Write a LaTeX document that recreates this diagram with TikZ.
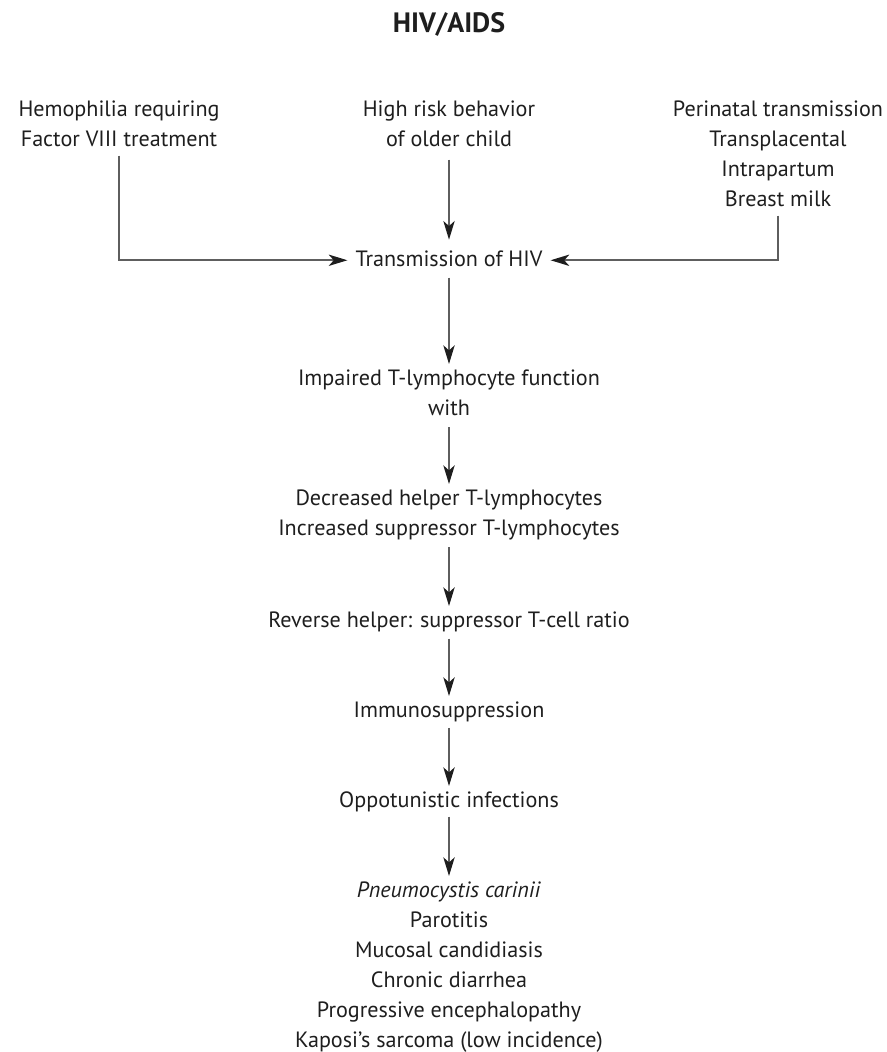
\documentclass[tikz,border=0pt]{standalone}
\usepackage{fontspec}
\setmainfont{PT Sans}
\usetikzlibrary{arrows.meta}
\definecolor{ink}{HTML}{1E1E1E}
\definecolor{wire}{HTML}{5E5E5E}
\begin{document}
\begin{tikzpicture}[x=0.75pt,y=-0.75pt,
  lbl/.style={inner sep=0pt, align=center, anchor=north, text=ink,
              font=\fontsize{16.6}{22.5}\selectfont},
  arr/.style={draw=wire, line width=1.25pt,
              -{Stealth[length=14pt,width=8.5pt,inset=3.8pt,color=ink]}}
]
\useasboundingbox (0,0) rectangle (886,1052);

% title
\node[font=\bfseries\fontsize{21}{24}\selectfont, text=ink, anchor=base, inner sep=0pt]
  (title) at (449,33) {HIV/AIDS};

% sources of transmission
\node[lbl] (hemo) at (119,95) {\strut Hemophilia requiring\\Factor VIII treatment\strut};
\node[lbl] (risk) at (449,95) {\strut High risk behavior\\of older child\strut};
\node[lbl] (peri) at (778,95) {\strut Perinatal transmission\\Transplacental\\Intrapartum\\Breast milk\strut};

% main chain
\node[lbl, inner xsep=6pt] (trans) at (449,245) {\strut Transmission of HIV\strut};
\node[lbl] (impair) at (449,364) {\strut Impaired T-lymphocyte function\\with\strut};
\node[lbl] (cells) at (449,484) {\strut Decreased helper T-lymphocytes\\Increased suppressor T-lymphocytes\strut};
\node[lbl] (ratio) at (449,606) {\strut Reverse helper: suppressor T-cell ratio\strut};
\node[lbl] (immuno) at (449,696) {\strut Immunosuppression\strut};
\node[lbl] (opp) at (449,786) {\strut Oppotunistic infections\strut};
\node[lbl] (list) at (449,876) {\strut\textit{Pneumocystis carinii}\\Parotitis\\Mucosal candidiasis\\Chronic diarrhea\\Progressive encephalopathy\\Kaposi’s sarcoma (low incidence)\strut};

% connectors
\draw[arr] (hemo.south) |- (trans.west);
\draw[arr] (peri.south) |- (trans.east);
\draw[arr, shorten <=3pt, shorten >=4pt] (risk.south) -- (trans.north);
\draw[arr, shorten <=1.5pt] (trans.south) -- (impair.north);
\draw[arr, shorten <=2pt] (impair.south) -- (cells.north);
\draw[arr, shorten <=2pt] (cells.south) -- (ratio.north);
\draw[arr, shorten <=1.5pt] (ratio.south) -- (immuno.north);
\draw[arr, shorten <=1pt] (immuno.south) -- (opp.north);
\draw[arr] (opp.south) -- (list.north);
\end{tikzpicture}
\end{document}
